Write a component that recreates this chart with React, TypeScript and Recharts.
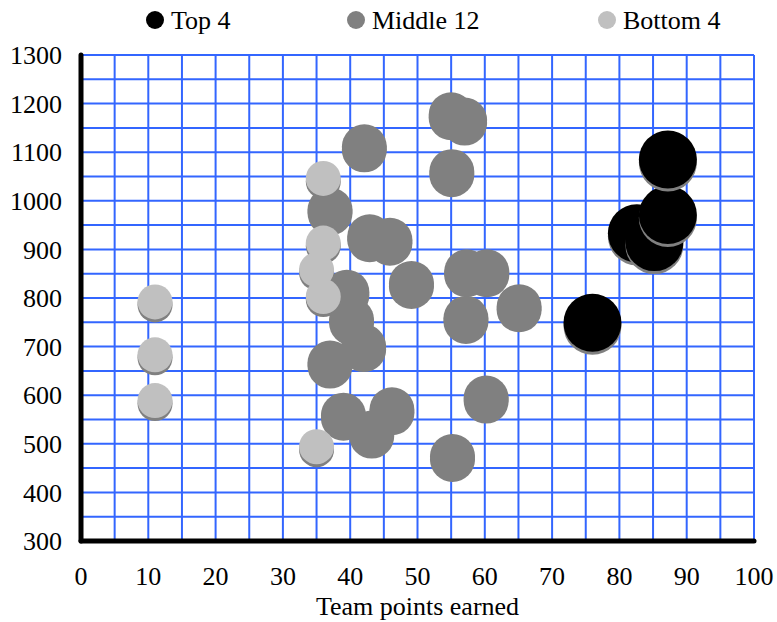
import React from 'react';
import { ScatterChart, Scatter, XAxis, YAxis, CartesianGrid, Label } from 'recharts';

const xTicks = [0, 5, 10, 15, 20, 25, 30, 35, 40, 45, 50, 55, 60, 65, 70, 75, 80, 85, 90, 95, 100];
const yTicks = [300, 350, 400, 450, 500, 550, 600, 650, 700, 750, 800, 850, 900, 950, 1000, 1050, 1100, 1150, 1200, 1250, 1300];

const seriesNames = ['Top 4', 'Middle 12', 'Bottom 4'];

const top4X = [76, 82.6, 85.2, 87.2, 87.2];
const top4Y = [749, 933, 915, 971, 1085];

const middle12X = [55, 57, 42.1, 55.1, 37, 42.9, 45.9, 49.1, 57.3, 60.3, 39.5, 57.2, 65.1, 40.2, 42, 37, 39, 43.2, 46.2, 60.2, 55.2];
const middle12Y = [1177, 1166, 1111, 1060, 981, 926, 919, 830, 854, 854, 812, 758, 782, 755, 700, 666, 559, 522, 570, 594, 474];

const bottom4X = [11, 11, 11, 36, 36, 35, 36, 35];
const bottom4Y = [792, 683, 589, 1046, 913, 858, 803, 494];

const toPoints = (xs: number[], ys: number[]) => xs.map((x, i) => ({ x, y: ys[i] }));

const top4Data = toPoints(top4X, top4Y);
const middle12Data = toPoints(middle12X, middle12Y);
const bottom4Data = toPoints(bottom4X, bottom4Y);

const FONT = '"Liberation Serif", "Times New Roman", serif';

const makeShape = (r: number, fill: string) => (props: any) => {
  const { cx, cy } = props;
  if (cx == null || cy == null) return <g />;
  return (
    <g>
      <circle cx={cx} cy={cy + 3} r={r} fill="#808080" />
      <circle cx={cx} cy={cy} r={r} fill={fill} />
    </g>
  );
};

const legendItems = [
  { name: seriesNames[0], color: '#000000', left: 146 },
  { name: seriesNames[1], color: '#808080', left: 347 },
  { name: seriesNames[2], color: '#C0C0C0', left: 598 },
];

export default function App() {
  return (
    <div style={{ position: 'absolute', left: 0, top: 0, width: 777, height: 622, background: '#fff' }}>
      <ScatterChart width={777} height={622} margin={{ top: 55, right: 23, bottom: 0, left: 0 }}>
        <CartesianGrid stroke="#3366FF" strokeWidth={2} fill="none" />
        <XAxis
          type="number"
          dataKey="x"
          domain={[0, 100]}
          ticks={xTicks}
          interval={0}
          tickFormatter={(v: number) => (v % 10 === 0 ? String(v) : '')}
          tickSize={0}
          tickLine={false}
          tickMargin={26}
          height={81}
          axisLine={{ stroke: '#000', strokeWidth: 5, strokeLinecap: 'round' }}
          tick={{ fill: '#000', fontSize: 26, fontFamily: FONT }}
        >
          <Label
            value="Team points earned"
            position="insideBottom"
            offset={7}
            style={{ fill: '#000', fontSize: 26, fontFamily: FONT }}
          />
        </XAxis>
        <YAxis
          type="number"
          dataKey="y"
          domain={[300, 1300]}
          ticks={yTicks}
          interval={0}
          tickFormatter={(v: number) => (v % 100 === 0 ? String(v) : '')}
          tickSize={0}
          tickLine={false}
          tickMargin={19}
          width={81}
          axisLine={{ stroke: '#000', strokeWidth: 5, strokeLinecap: 'round' }}
          tick={{ fill: '#000', fontSize: 26, fontFamily: FONT }}
        />
        <Scatter name={seriesNames[1]} data={middle12Data} shape={makeShape(22.5, '#808080')} isAnimationActive={false} />
        <Scatter name={seriesNames[2]} data={bottom4Data} shape={makeShape(17.5, '#C0C0C0')} isAnimationActive={false} />
        <Scatter name={seriesNames[0]} data={top4Data} shape={makeShape(29, '#000000')} isAnimationActive={false} />
      </ScatterChart>
      {legendItems.map((it) => (
        <React.Fragment key={it.name}>
          <div
            style={{
              position: 'absolute',
              left: it.left,
              top: 11,
              width: 18,
              height: 18,
              borderRadius: '50%',
              background: it.color,
            }}
          />
          <span
            style={{
              position: 'absolute',
              left: it.left + 25,
              top: 7.5,
              fontFamily: FONT,
              fontSize: 26,
              lineHeight: '26px',
              color: '#000',
              whiteSpace: 'nowrap',
            }}
          >
            {it.name}
          </span>
        </React.Fragment>
      ))}
    </div>
  );
}
